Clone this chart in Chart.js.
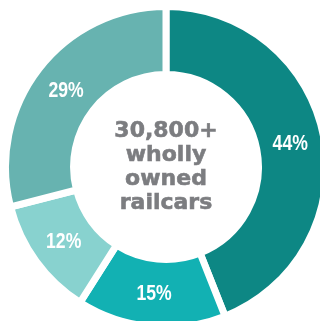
<!DOCTYPE html>
<html>
<head>
<meta charset="utf-8">
<script src="https://cdn.jsdelivr.net/npm/chart.js@4/dist/chart.umd.min.js"></script>
<style>
  html, body { margin: 0; padding: 0; background: #fff; width: 320px; height: 321px; overflow: hidden; }
  #wrap { position: absolute; left: 2px; top: 3px; width: 328px; height: 328px; }
</style>
</head>
<body>
<div id="wrap"><canvas id="c"></canvas></div>
<script>
const categories = ['Segment A', 'Segment B', 'Segment C', 'Segment D'];
const values = [44, 15, 12, 29];
const valueLabels = ['44%', '15%', '12%', '29%'];
const centerLines = ['30,800+', 'wholly', 'owned', 'railcars'];
const sliceColors = ['#0d8784', '#12b1b3', '#88d2cf', '#67b3b0'];

const labelPlugin = {
  id: 'labelPlugin',
  afterDatasetsDraw(chart) {
    const ctx = chart.ctx;
    const meta = chart.getDatasetMeta(0);
    ctx.save();
    ctx.fillStyle = '#ffffff';
    ctx.font = 'bold 22px "Liberation Sans", Arial, sans-serif';
    ctx.textAlign = 'center';
    ctx.textBaseline = 'middle';
    const sx = 0.8;
    meta.data.forEach((arc, i) => {
      const p = arc.getCenterPoint();
      ctx.save();
      ctx.translate(p.x, p.y + 1);
      ctx.scale(sx, 1);
      ctx.fillText(valueLabels[i], 0, 0);
      ctx.restore();
    });
    // center text
    const first = meta.data[0];
    const cx = first.x, cy = first.y;
    ctx.fillStyle = '#7c7d80';
    ctx.strokeStyle = '#7c7d80';
    ctx.lineWidth = 0.6;
    ctx.font = 'bold 22px "DejaVu Sans", sans-serif';
    const lh = 24;
    const n = centerLines.length;
    centerLines.forEach((t, i) => {
      const y = cy + (i - (n - 1) / 2) * lh;
      ctx.fillText(t, cx, y);
      ctx.strokeText(t, cx, y);
    });
    ctx.restore();
  }
};

new Chart(document.getElementById('c'), {
  type: 'doughnut',
  data: {
    labels: categories,
    datasets: [{
      data: values,
      backgroundColor: sliceColors,
      borderColor: '#ffffff',
      borderWidth: 7,
      hoverBorderWidth: 7,
      borderJoinStyle: 'miter'
    }]
  },
  options: {
    responsive: true,
    maintainAspectRatio: false,
    animation: false,
    cutout: '57.6%',
    layout: { padding: 0 },
    plugins: { legend: { display: false }, tooltip: { enabled: false } },
    events: []
  },
  plugins: [labelPlugin]
});
</script>
</body>
</html>
